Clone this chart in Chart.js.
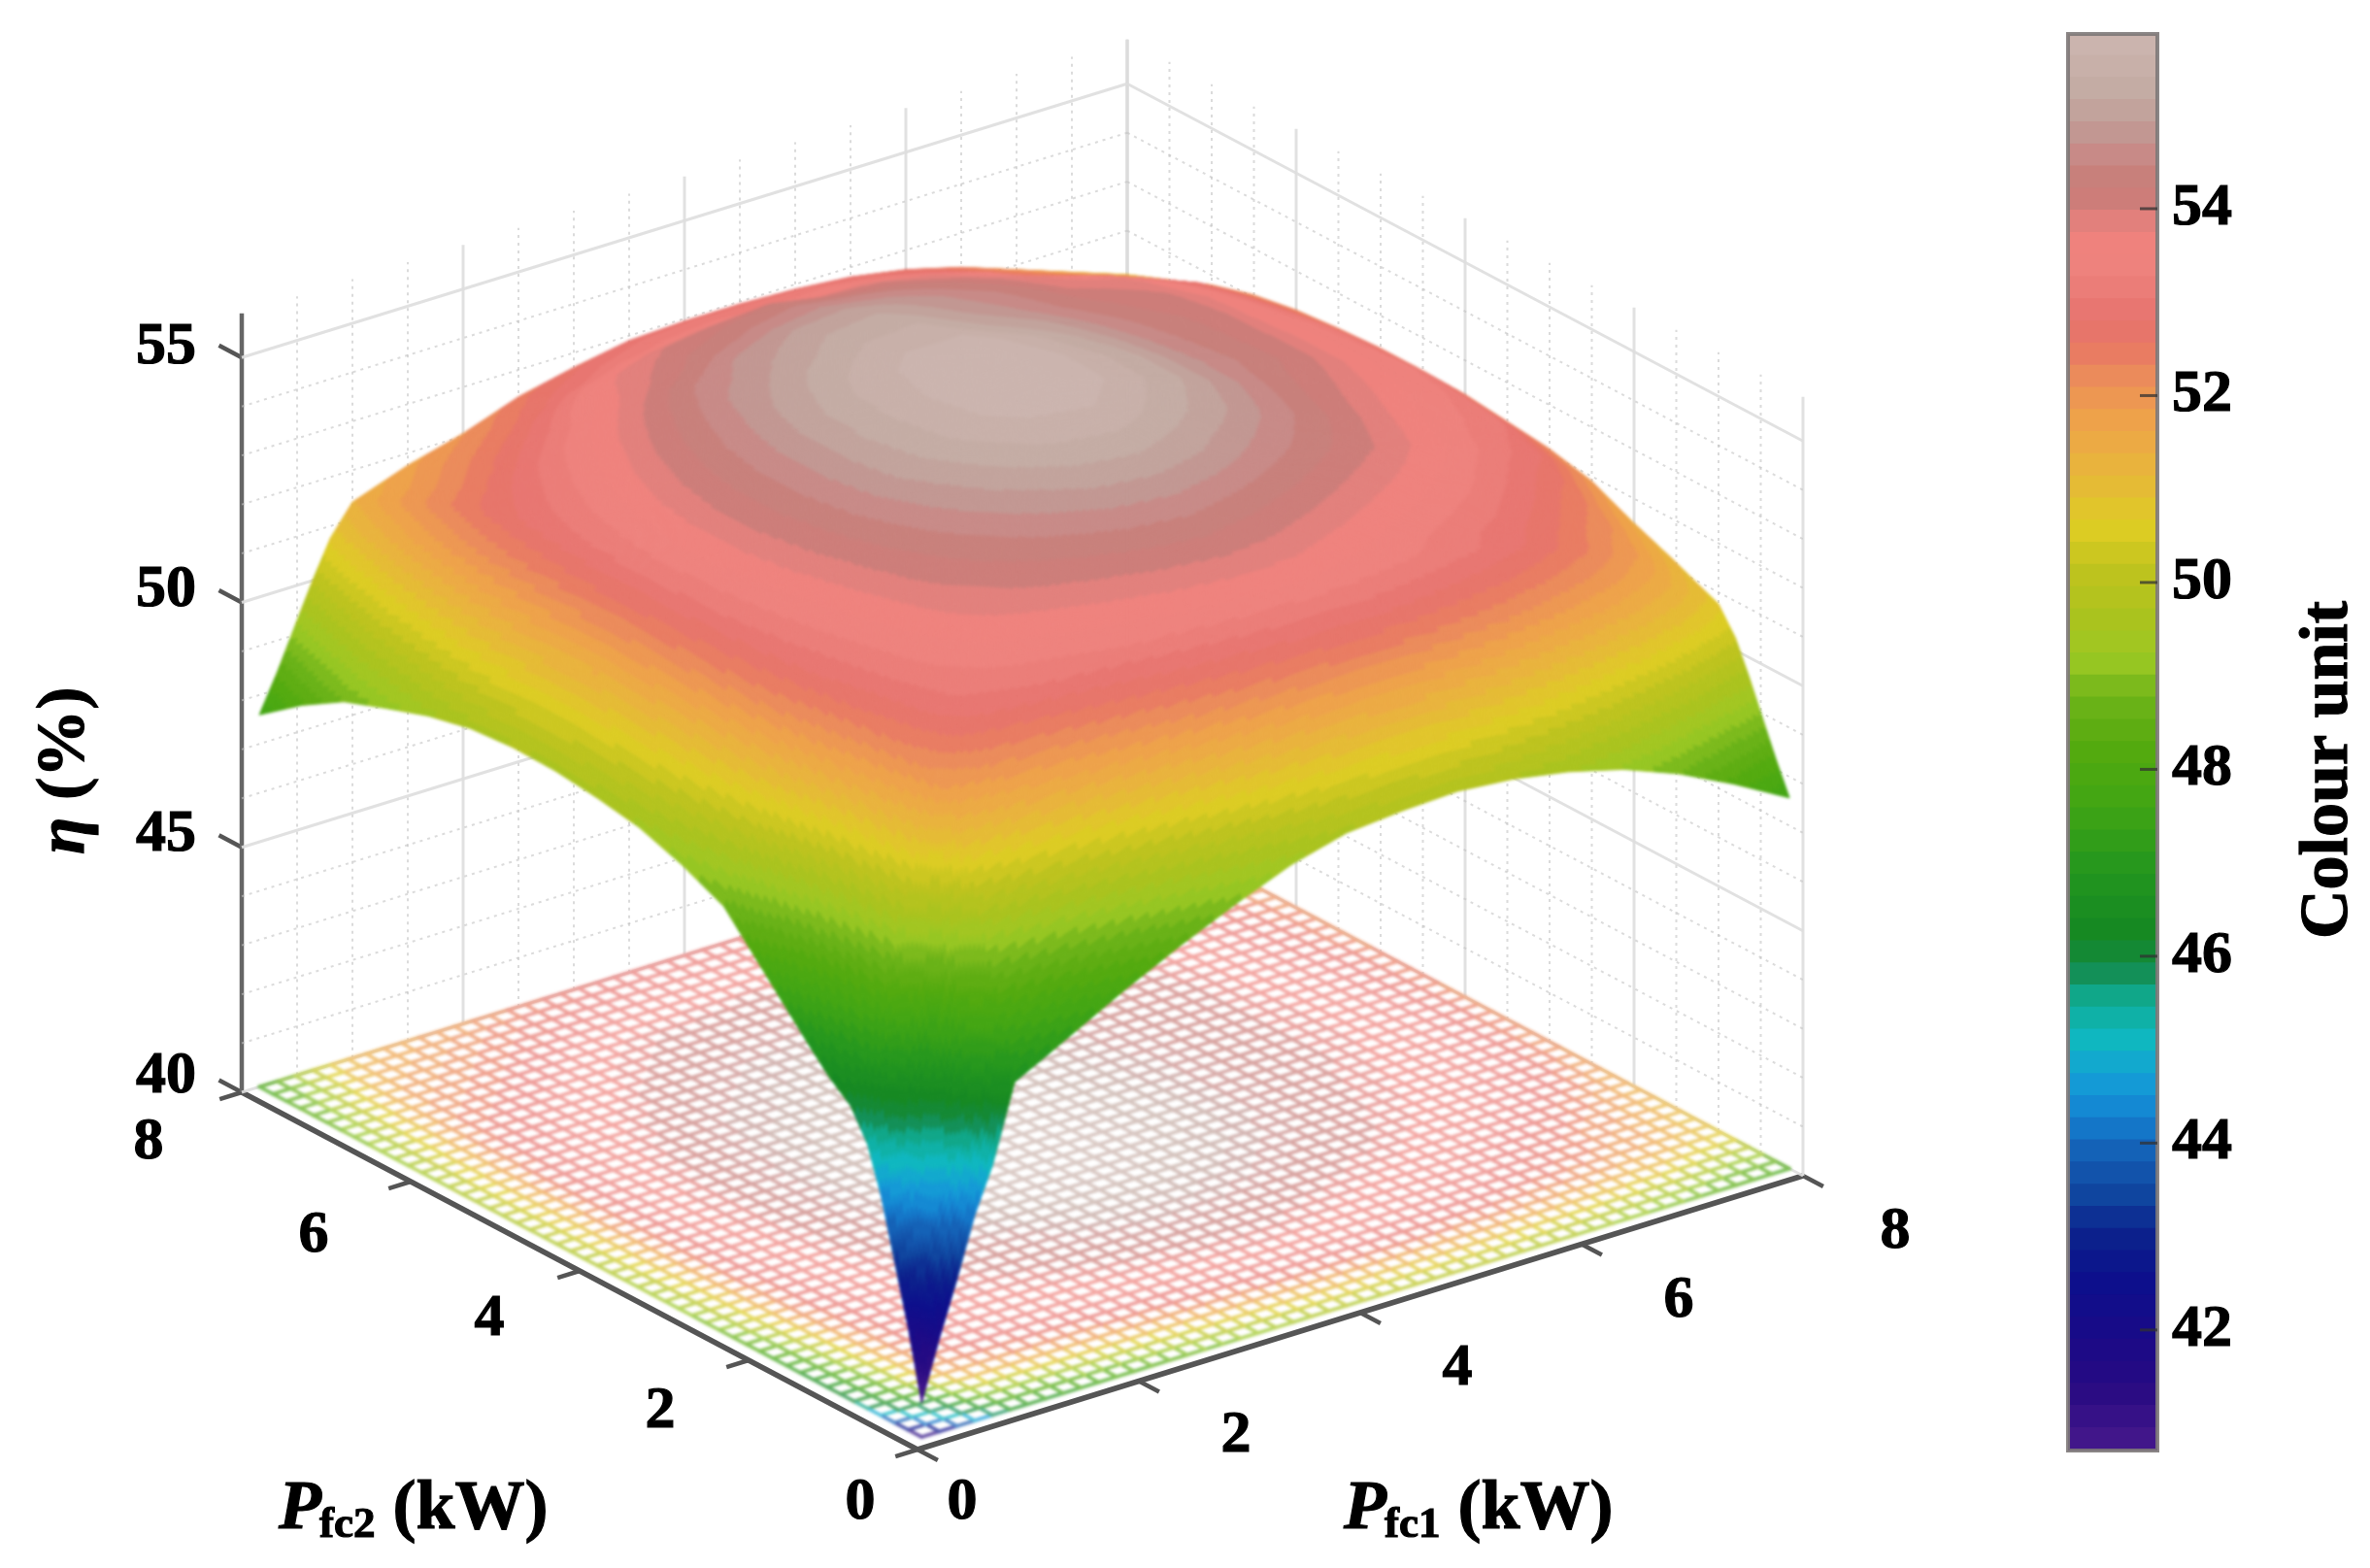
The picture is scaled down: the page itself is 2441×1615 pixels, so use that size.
<!DOCTYPE html>
<html><head><meta charset="utf-8">
<style>html,body{margin:0;padding:0;background:#fff;width:2441px;height:1615px;overflow:hidden}
canvas{position:absolute;left:0;top:0}</style>
<script src="https://cdn.jsdelivr.net/npm/chart.js@4"></script>
</head><body>
<canvas id="main" width="2441" height="1615"></canvas>
<canvas id="bar" width="2441" height="1615"></canvas>
<script>
// ---------- data ----------
const pfcAxis = [0.16,0.32,0.48,0.64,0.8,1,1.25,1.5,2,2.5,3,3.5,4,4.5,5,5.5,6,6.5,7,7.5,8];
// one row per Pfc2 value in pfcAxis, one column per Pfc1 value in pfcAxis
const etaRows = [
[40.7,41.9,43.0,44.2,45.1,46.66,46.95,47.25,47.85,48.4,48.9,49.35,49.65,49.75,49.8,49.7,49.5,49.2,48.76,48.2,47.57],
[42.1,43.5,44.6,45.5,46.6,47.69,47.96,48.24,48.74,49.22,49.66,50.05,50.31,50.4,50.43,50.32,50.12,49.82,49.4,48.85,48.21],
[43.3,44.7,45.4,46.3,47.6,48.82,49.07,49.33,49.72,50.12,50.5,50.82,51.04,51.12,51.12,51.0,50.8,50.5,50.1,49.57,48.91],
[44.5,45.6,46.3,46.9,48.6,49.95,50.18,50.42,50.7,51.02,51.33,51.59,51.76,51.83,51.82,51.68,51.48,51.18,50.8,50.28,49.61],
[45.4,46.5,47.5,48.5,49.5,50.98,51.19,51.41,51.59,51.84,52.09,52.29,52.42,52.48,52.45,52.3,52.1,51.8,51.44,50.93,50.25],
[46.0,47.16,48.44,49.71,50.87,51.8,52.0,52.2,52.3,52.5,52.7,52.85,52.95,53.0,52.95,52.8,52.6,52.3,51.95,51.45,50.76],
[46.35,47.49,48.74,50.0,51.14,52.05,52.6,52.8,53.0,53.15,53.3,53.4,53.5,53.5,53.4,53.25,53.05,52.75,52.35,51.8,50.95],
[46.8,47.89,49.09,50.29,51.38,52.25,52.8,53.1,53.3,53.45,53.6,53.75,53.85,53.8,53.6,53.4,53.15,52.9,52.5,52.0,51.15],
[47.75,48.7,49.75,50.79,51.74,52.5,53.0,53.3,53.7,53.95,54.15,54.35,54.45,54.3,54.1,53.85,53.6,53.3,52.9,52.4,51.5],
[48.7,49.51,50.4,51.29,52.1,52.75,53.15,53.45,53.95,54.3,54.65,54.95,55.05,54.9,54.6,54.3,54.0,53.65,53.25,52.85,51.9],
[49.1,49.86,50.7,51.53,52.29,52.9,53.3,53.6,54.15,54.65,55.1,55.45,55.55,55.3,55.0,54.6,54.2,53.8,53.4,53.1,52.1],
[49.4,50.12,50.91,51.7,52.42,53.0,53.4,53.75,54.35,54.95,55.45,55.8,55.85,55.55,55.2,54.75,54.3,53.95,53.55,53.2,52.2],
[49.55,50.25,51.02,51.79,52.49,53.05,53.5,53.85,54.45,55.05,55.55,55.85,55.87,55.55,55.2,54.75,54.4,54.1,53.65,53.25,52.3],
[49.65,50.34,51.1,51.86,52.55,53.1,53.5,53.85,54.45,55.05,55.5,55.75,55.75,55.45,55.1,54.7,54.35,54.1,53.65,53.2,52.33],
[49.67,50.35,51.09,51.83,52.51,53.05,53.4,53.75,54.35,54.9,55.3,55.5,55.5,55.2,54.95,54.6,54.3,54.1,53.6,53.15,52.33],
[49.6,50.27,51.01,51.74,52.41,52.95,53.25,53.55,54.15,54.7,55.0,55.25,55.3,55.0,54.75,54.45,54.2,54.0,53.6,53.0,52.28],
[49.4,50.08,50.83,51.58,52.26,52.8,53.05,53.3,53.85,54.4,54.75,54.95,55.0,54.85,54.6,54.35,54.0,53.85,53.4,52.85,52.2],
[49.1,49.79,50.55,51.31,52.0,52.55,52.75,53.0,53.5,53.95,54.3,54.5,54.6,54.5,54.35,54.1,53.8,53.5,53.1,52.65,52.05],
[48.78,49.46,50.22,50.97,51.65,52.2,52.35,52.55,53.0,53.65,53.95,54.1,54.2,54.0,53.95,53.75,53.45,52.9,52.7,52.25,51.8],
[48.25,48.96,49.74,50.52,51.23,51.8,51.95,52.15,52.5,52.9,53.2,53.35,53.4,53.35,53.4,53.25,53.0,52.6,52.25,51.8,51.45],
[47.6,48.35,49.18,50.0,50.75,51.35,51.55,51.75,52.05,52.45,52.7,52.9,52.95,52.95,52.9,52.8,52.6,52.3,51.9,51.5,51.1]
];
const pfcTicks = [0,2,4,6,8];
const pfcMinor = [0.5,1,1.5,2.5,3,3.5,4.5,5,5.5,6.5,7,7.5];
const etaTicks = [40,45,50,55];
const etaMinor = [41,42,43,44,46,47,48,49,51,52,53,54];
const etaTop = 55.9;
const colourTicks = [42,44,46,48,50,52,54];
const colourMin = 40.71, colourMax = 55.87, colourLevels = 64;
const colourValues = [55.87,55.19,54.88,54.57,54.26,54.0,53.74,53.32,52.81,52.49,52.18,51.77,51.35,50.94,50.57,50.1,49.58,49.17,48.75,48.23,47.61,46.88,46.16,45.84,45.53,45.12,44.7,44.29,43.87,43.45,43.04,42.52,41.9,41.38,40.71];
const colourRGB = [[205,182,176],[195,170,162],[192,155,150],[200,138,135],[200,125,120],[208,125,122],[240,130,125],[238,130,125],[230,115,110],[232,120,100],[235,140,90],[238,160,75],[235,175,65],[228,190,50],[222,205,35],[190,195,30],[170,195,30],[155,200,35],[110,180,25],[85,170,15],[65,165,20],[35,150,30],[20,135,35],[20,140,80],[15,170,145],[15,185,190],[20,160,215],[20,130,210],[20,95,180],[15,70,160],[12,35,140],[12,15,140],[25,10,135],[40,10,130],[70,25,140]];
const meshStep = 0.16, meshCount = 50;
const pfc1Offsets = [[46,50],[100,51],[100,53],[100,53.5],[95,53]];
const pfc2Offsets = [[-59,50],[-91,48],[-93,45],[-100,51],[-96,47]];
const etaOffsets = [[-78,-21],[-78,-18],[-78,-18],[-78,-15]];

// ---------- view: oblique projection of (Pfc1, Pfc2, eta) on the plot plane ----------
const viewA = {x:114, y:35.25}, viewB = {x:-87, y:46}, viewZ = 50.45;
function project(a,b,z){ return {x:viewA.x*a+viewB.x*b, y:viewA.y*a+viewB.y*b+viewZ*(z-40)}; }

const colourMemo = new Array(colourLevels);
function colourOf(v){
  let lvl = Math.floor((v-colourMin)/(colourMax-colourMin)*colourLevels);
  lvl = Math.max(0,Math.min(colourLevels-1,lvl));
  if(colourMemo[lvl]) return colourMemo[lvl];
  const c = colourMin+(lvl+0.5)*(colourMax-colourMin)/colourLevels;
  for(let k=0;k<colourValues.length-1;k++){
    if(c<=colourValues[k] && c>=colourValues[k+1]){
      const t=(c-colourValues[k+1])/(colourValues[k]-colourValues[k+1]);
      const p=colourRGB[k], q=colourRGB[k+1];
      return colourMemo[lvl]=[0,1,2].map(n=>Math.round(q[n]+(p[n]-q[n])*t));
    }
  }
  return colourRGB[colourRGB.length-1];
}
function etaAt(a,b){
  const seg=v=>{let i=0;while(i<pfcAxis.length-2&&v>pfcAxis[i+1])i++;return [i,Math.max(0,Math.min(1,(v-pfcAxis[i])/(pfcAxis[i+1]-pfcAxis[i])))];};
  const [i,u]=seg(a),[j,v]=seg(b);
  return (etaRows[j][i]*(1-u)+etaRows[j][i+1]*u)*(1-v)+(etaRows[j+1][i]*(1-u)+etaRows[j+1][i+1]*u)*v;
}

// ---------- datasets ----------
const datasets = [];
function addLine(pts,color,width,dash){
  datasets.push({type:'scatter',showLine:true,data:pts,borderColor:color,borderWidth:width,borderDash:dash||[],pointRadius:0,clip:false});
}
const solid='rgba(222,222,222,0.9)', dotted='rgba(195,195,195,0.6)', axisCol='#555555';
// surface rows
const surfaceStart = datasets.length;
etaRows.forEach((row,j)=>{
  datasets.push({type:'scatter',label:'Pfc2 '+pfcAxis[j],showLine:false,pointRadius:0,clip:false,
    data:row.map((z,i)=>project(pfcAxis[i],pfcAxis[j],z))});
});
// back walls
etaMinor.forEach(z=>{
  addLine([project(0,8,z),project(8,8,z)],dotted,2,[3,5]);
  addLine([project(8,8,z),project(8,0,z)],dotted,2,[3,5]);
});
etaTicks.forEach(z=>{
  addLine([project(0,8,z),project(8,8,z)],solid,3);
  addLine([project(8,8,z),project(8,0,z)],solid,3);
});
pfcMinor.forEach(p=>{
  addLine([project(p,8,40),project(p,8,etaTop)],dotted,2,[3,5]);
  addLine([project(8,p,40),project(8,p,etaTop)],dotted,2,[3,5]);
});
pfcTicks.forEach(p=>{
  if(p>0) addLine([project(p,8,40),project(p,8,etaTop)],solid,3);
  if(p<8) addLine([project(8,p,40),project(8,p,etaTop)],solid,3);
});
addLine([project(8,8,40),project(8,8,etaTop)],'rgba(205,205,205,0.95)',3);
// axes
addLine([project(0,8,40),project(0,8,etaTop)],'#666666',4.5);
addLine([project(0,0,40),project(0,8,40)],axisCol,5.5);
addLine([project(0,0,40),project(8,0,40)],axisCol,5.5);
etaTicks.forEach(z=>addLine([project(0,8,z),project(0,8.27,z)],axisCol,4.5));
pfcTicks.forEach(p=>{
  addLine([project(0,p,40),project(-0.2,p,40)],axisCol,4.5);
  addLine([project(p,0,40),project(p,-0.24,40)],axisCol,4.5);
});

// ---------- surface + floor mesh painter ----------
const surfacePainter = {
  id:'surfacePainter',
  afterDatasetsDraw(chart){
    const sx=chart.scales.x, sy=chart.scales.y;
    const off=document.createElement('canvas'); off.width=chart.width; off.height=chart.height;
    const g=off.getContext('2d');
    // floor mesh at the bottom of the eta axis
    g.lineWidth=3.8; g.lineCap='round';
    const node=(a,b)=>{const p=project(a,b,40);return [sx.getPixelForValue(p.x),sy.getPixelForValue(p.y)];};
    for(let s=0;s<2;s++){
      for(let m=1;m<=meshCount;m++){
        for(let k=1;k<meshCount;k++){
          const fix=m*meshStep, p0=k*meshStep, p1=(k+1)*meshStep;
          const a0=s?fix:p0, b0=s?p0:fix, a1=s?fix:p1, b1=s?p1:fix;
          const c=colourOf(etaAt((a0+a1)/2,(b0+b1)/2));
          g.strokeStyle='rgb('+c.map(n=>Math.round(n+(255-n)*0.3)).join(',')+')';
          const P=node(a0,b0),Q=node(a1,b1);
          g.beginPath();g.moveTo(P[0],P[1]);g.lineTo(Q[0],Q[1]);g.stroke();
        }
      }
    }
    // surface cells, far to near, read from the dataset elements
    const metas=pfcAxis.map((_,j)=>chart.getDatasetMeta(surfaceStart+j).data);
    const parts=i=>Math.max(1,Math.ceil((pfcAxis[i+1]-pfcAxis[i])/0.025));
    g.lineWidth=1; g.lineJoin='round';
    for(let j=pfcAxis.length-2;j>=0;j--){
      const nj=parts(j);
      for(let jj=nj-1;jj>=0;jj--){
        const v0=jj/nj,v1=(jj+1)/nj;
        for(let i=pfcAxis.length-2;i>=0;i--){
          const ni=parts(i);
          const A=metas[j][i],B=metas[j][i+1],C=metas[j+1][i],D=metas[j+1][i+1];
          const za=etaRows[j][i],zb=etaRows[j][i+1],zc=etaRows[j+1][i],zd=etaRows[j+1][i+1];
          const mix=(a,b,c,d,u,v)=>(a*(1-u)+b*u)*(1-v)+(c*(1-u)+d*u)*v;
          for(let ii=ni-1;ii>=0;ii--){
            const u0=ii/ni,u1=(ii+1)/ni,um=(u0+u1)/2,vm=(v0+v1)/2;
            const c='rgb('+colourOf(mix(za,zb,zc,zd,um,vm)).join(',')+')';
            g.fillStyle=c;g.strokeStyle=c;
            g.beginPath();
            g.moveTo(mix(A.x,B.x,C.x,D.x,u0,v0),mix(A.y,B.y,C.y,D.y,u0,v0));
            g.lineTo(mix(A.x,B.x,C.x,D.x,u1,v0),mix(A.y,B.y,C.y,D.y,u1,v0));
            g.lineTo(mix(A.x,B.x,C.x,D.x,u1,v1),mix(A.y,B.y,C.y,D.y,u1,v1));
            g.lineTo(mix(A.x,B.x,C.x,D.x,u0,v1),mix(A.y,B.y,C.y,D.y,u0,v1));
            g.closePath();g.fill();g.stroke();
          }
        }
      }
    }
    const ctx=chart.ctx;
    ctx.save();ctx.filter='blur(1.6px)';ctx.drawImage(off,0,0);ctx.restore();
  },
  afterDraw(chart){
    const sx=chart.scales.x, sy=chart.scales.y, ctx=chart.ctx;
    ctx.save();
    ctx.fillStyle='#000';ctx.strokeStyle='#000';ctx.lineWidth=1.2;ctx.textAlign='center';ctx.textBaseline='alphabetic';
    const draw=(t,x,y)=>{ctx.fillText(t,x,y);ctx.strokeText(t,x,y);};
    ctx.font="bold 62px 'Liberation Serif'";
    const put=(txt,p,off)=>draw(txt,sx.getPixelForValue(p.x)+off[0],sy.getPixelForValue(p.y)+off[1]+21);
    etaTicks.forEach((z,i)=>put(String(z),project(0,8,z),etaOffsets[i]));
    pfcTicks.forEach((v,i)=>{
      put(String(v),project(v,0,40),pfc1Offsets[i]);
      put(String(v),project(0,v,40),pfc2Offsets[i]);
    });
    const title=(x,y,sub)=>{
      ctx.textAlign='left';
      ctx.font="italic bold 72px 'Liberation Serif'";draw('P',x,y);
      let w=ctx.measureText('P').width;
      ctx.font="bold 45px 'Liberation Serif'";draw(sub,x+w-2,y+9);
      w+=ctx.measureText(sub).width-2;
      ctx.font="bold 72px 'Liberation Serif'";draw(' (kW)',x+w,y);
    };
    title(1384,1574,'fc1');
    title(287,1574,'fc2');
    ctx.translate(86,880);ctx.rotate(-Math.PI/2);
    ctx.textAlign='left';
    ctx.font="italic bold 70px 'Liberation Serif'";draw('η',0,0);
    const w=ctx.measureText('η').width;
    ctx.font="bold 70px 'Liberation Serif'";draw(' (%)',w,0);
    ctx.restore();
  }
};
new Chart(document.getElementById('main'),{
  type:'scatter',
  data:{datasets},
  plugins:[surfacePainter],
  options:{responsive:false,animation:false,devicePixelRatio:1,layout:{padding:0},
    plugins:{legend:{display:false},tooltip:{enabled:false}},
    scales:{x:{type:'linear',display:false,min:-945,max:1496},y:{type:'linear',display:false,min:-122,max:1493}}}
});

// ---------- colour bar ----------
const bandDatasets=[];
for(let k=0;k<colourLevels;k++){
  const lo=colourMin+k*(colourMax-colourMin)/colourLevels, hi=colourMin+(k+1)*(colourMax-colourMin)/colourLevels;
  bandDatasets.push({data:[[lo,hi+0.01]],backgroundColor:'rgb('+colourOf((lo+hi)/2).join(',')+')',borderWidth:0,barPercentage:1,categoryPercentage:1});
}
const barDecor={
  id:'barDecor',
  afterDraw(chart){
    const ctx=chart.ctx,a=chart.chartArea,s=chart.scales.y;
    ctx.save();
    ctx.strokeStyle='rgba(125,120,120,0.9)';ctx.lineWidth=4;
    ctx.strokeRect(a.left,a.top,a.right-a.left,a.bottom-a.top);
    ctx.strokeStyle='rgba(50,50,50,0.75)';ctx.lineWidth=3;
    colourTicks.forEach(v=>{const y=s.getPixelForValue(v);ctx.beginPath();ctx.moveTo(a.right-18,y);ctx.lineTo(a.right,y);ctx.stroke();});
    ctx.translate(2417,967);ctx.rotate(-Math.PI/2);
    ctx.fillStyle='#000';ctx.strokeStyle='#000';ctx.lineWidth=1.2;ctx.textAlign='left';ctx.textBaseline='alphabetic';
    ctx.font="bold 70px 'Liberation Serif'";ctx.fillText('Colour unit',0,0);ctx.strokeText('Colour unit',0,0);
    ctx.restore();
  }
};
new Chart(document.getElementById('bar'),{
  type:'bar',
  data:{labels:['eta'],datasets:bandDatasets},
  plugins:[barDecor],
  options:{responsive:false,animation:false,devicePixelRatio:1,
    layout:{padding:{left:2130,top:35,bottom:121,right:119}},
    plugins:{legend:{display:false},tooltip:{enabled:false}},
    scales:{
      x:{display:false,stacked:true},
      y:{position:'right',min:colourMin,max:colourMax,
        afterBuildTicks:s=>{s.ticks=colourTicks.map(v=>({value:v}));},
        afterFit:s=>{s.width=100;s.paddingTop=0;s.paddingBottom=0;},
        grid:{display:false},border:{display:false},
        ticks:{padding:7,color:'#000',textStrokeColor:'#000',textStrokeWidth:1.2,font:{family:"'Liberation Serif'",weight:'bold',size:62},autoSkip:false,maxRotation:0}}
    }}
});
</script>
</body></html>
